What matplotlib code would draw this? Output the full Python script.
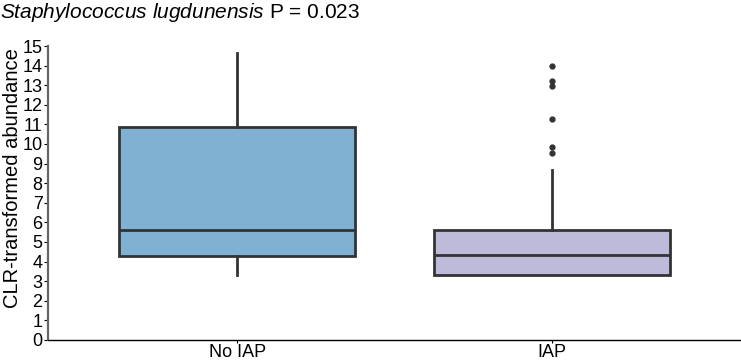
import matplotlib
matplotlib.use('Agg')
import matplotlib.pyplot as plt

plt.rcParams['font.family'] = ['Liberation Sans', 'DejaVu Sans']
plt.rcParams['mathtext.fontset'] = 'custom'
plt.rcParams['mathtext.it'] = 'Liberation Sans:italic'
plt.rcParams['mathtext.rm'] = 'Liberation Sans'

# Box summary values
groups = ['No IAP', 'IAP']
whislo = [3.32, 3.32]
q1 = [4.29, 3.32]
medians = [5.61, 4.33]
q3 = [10.87, 5.61]
whishi = [14.63, 8.67]
fliers = [[], [9.52, 9.86, 11.28, 12.96, 13.23, 13.98]]
colors = ['#80b1d3', '#bebada']

stats = []
for i, g in enumerate(groups):
    stats.append({'label': g, 'whislo': whislo[i], 'q1': q1[i], 'med': medians[i],
                  'q3': q3[i], 'whishi': whishi[i], 'fliers': fliers[i]})

fig = plt.figure(figsize=(7.41, 3.6), dpi=100)
ax = fig.add_axes([0.065, 0.056, 0.935, 0.816])

line_col = '#333333'
bp = ax.bxp(stats, positions=[0, 1], widths=0.75, patch_artist=True, showcaps=False,
            boxprops=dict(edgecolor=line_col, linewidth=2),
            medianprops=dict(color=line_col, linewidth=2),
            whiskerprops=dict(color=line_col, linewidth=2),
            flierprops=dict(marker='o', markerfacecolor=line_col, markeredgecolor=line_col,
                            markersize=3.5))
for patch, c in zip(bp['boxes'], colors):
    patch.set_facecolor(c)

ax.set_xlim(-0.6, 1.6)
ax.set_ylim(0, 15)
ax.set_yticks(range(0, 16))
ax.tick_params(axis='y', labelsize=13, length=3, pad=1)
ax.tick_params(axis='x', labelsize=13, length=2, pad=1)
ax.set_xticks([0, 1])
ax.set_xticklabels(groups)
ax.set_ylabel('CLR-transformed abundance', fontsize=14.5)
ax.yaxis.set_label_coords(-0.038, 0.55)

ax.spines['top'].set_visible(False)
ax.spines['right'].set_visible(False)
ax.spines['left'].set_color('#666666')
ax.spines['left'].set_linewidth(1.6)
ax.spines['bottom'].set_color('black')
ax.spines['bottom'].set_linewidth(1.0)

fig.text(0.0, 0.965, r'$\it{Staphylococcus\ lugdunensis}$ P = 0.023', fontsize=15,
         ha='left', va='center')

fig.savefig('out.png', dpi=100)
